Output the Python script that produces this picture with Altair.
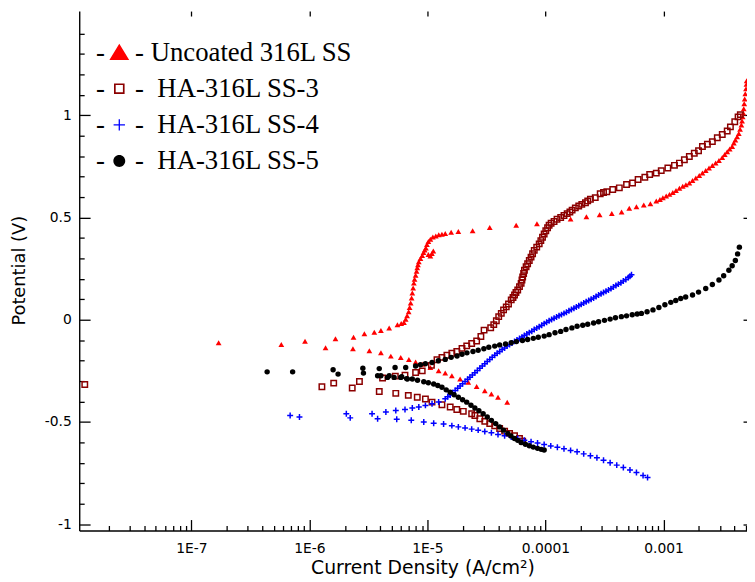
import altair as alt
import pandas as pd

SERIES = ["Uncoated 316L SS", "HA-316L SS-3", "HA-316L SS-4", "HA-316L SS-5"]
COLORS = ["#ff0000", "#8b0000", "#0000ff", "#000000"]
DASH_ROWS = ["d1", "d2", "d3", "d4"]

# log10 of current density (A/cm2) and potential (V)
RED_LOGI = [-6.769, -6.238, -6.037, -5.863, -5.779, -5.631, -5.626, -5.534, -5.492, -5.450, -5.394, -5.394, -5.324, -5.310, -5.254, -5.226, -5.222, -5.199, -5.157,
            -5.184, -5.172, -5.159, -5.151, -5.142, -5.134, -5.128, -5.121, -5.115, -5.109, -5.100, -5.092, -5.086, -5.080, -5.073, -5.059, -5.044, -5.033, -5.023, -5.013,
            -5.004, -4.992, -4.975, -4.954, -4.929, -4.904, -4.877,
            -4.992, -4.975, -4.962, -4.950,
            -4.849, -4.799, -4.738, -4.617, -4.472, -4.248, -4.072, -3.787, -3.653, -3.541, -3.438, -3.355, -3.290, -3.229, -3.167, -3.111, -3.061, -3.030, -3.005, -2.977,
            -2.949, -2.921, -2.894, -2.865, -2.837, -2.810, -2.781, -2.754, -2.726, -2.697, -2.670, -2.642, -2.614, -2.586, -2.558, -2.530, -2.502, -2.481, -2.460, -2.439,
            -2.418, -2.404, -2.391, -2.376, -2.362, -2.351, -2.340, -2.334, -2.329, -2.324, -2.320, -2.316, -2.312, -2.307, -2.301, -2.297, -2.295,
            -5.100, -5.044, -4.975, -4.905, -4.849, -4.793, -4.723, -4.654, -4.583, -4.514, -4.458, -4.402, -4.324]
RED_E = [-0.113, -0.121, -0.105, -0.137, -0.093, -0.142, -0.086, -0.069, -0.152, -0.061, -0.053, -0.161, -0.040, -0.178, -0.024, -0.185, -0.018, -0.013, -0.194,
         0.002, 0.019, 0.039, 0.060, 0.082, 0.106, 0.131, 0.155, 0.179, 0.198, 0.218, 0.237, 0.254, 0.269, 0.283, 0.300, 0.314, 0.329, 0.341, 0.351,
         0.368, 0.382, 0.394, 0.404, 0.410, 0.415, 0.418,
         0.319, 0.312, 0.324, 0.336,
         0.422, 0.428, 0.432, 0.435, 0.451, 0.462, 0.469, 0.492, 0.503, 0.513, 0.519, 0.527, 0.545, 0.553, 0.561, 0.567, 0.581, 0.588, 0.597, 0.605,
         0.613, 0.622, 0.632, 0.643, 0.653, 0.660, 0.669, 0.681, 0.693, 0.705, 0.717, 0.730, 0.742, 0.754, 0.766, 0.779, 0.793, 0.808, 0.822, 0.835,
         0.847, 0.864, 0.879, 0.895, 0.911, 0.931, 0.952, 0.972, 0.992, 1.011, 1.032, 1.056, 1.080, 1.105, 1.129, 1.151, 1.169,
         -0.207, -0.218, -0.234, -0.250, -0.261, -0.274, -0.290, -0.306, -0.326, -0.347, -0.363, -0.379, -0.403]

BROWN_LOGI = [-7.903, -5.894, -5.794, -5.637, -5.576, -5.408, -5.380, -5.272, -5.268, -5.190, -5.162, -5.100, -5.086, -5.044, -5.017,
              -4.966, -4.919, -4.877, -4.835, -4.793, -4.751, -4.707, -4.667, -4.625, -4.583, -4.547, -4.520, -4.464, -4.438, -4.416, -4.396, -4.374, -4.355, -4.332, -4.313,
              -4.290, -4.275, -4.262, -4.250, -4.235, -4.220, -4.206, -4.199, -4.193, -4.185, -4.178, -4.164, -4.151, -4.137, -4.122, -4.109, -4.095, -4.074, -4.053, -4.039,
              -4.025, -4.011, -3.997, -3.982, -3.969, -3.952, -3.927, -3.902, -3.871, -3.843, -3.816, -3.793, -3.774, -3.747, -3.718, -3.692, -3.661, -3.642, -3.619, -3.578,
              -3.536, -3.508, -3.480, -3.430, -3.374, -3.313, -3.262, -3.215, -3.158, -3.117, -3.061, -3.019, -2.963, -2.907, -2.865, -2.823, -2.781, -2.739, -2.703, -2.670,
              -2.628, -2.586, -2.544, -2.502, -2.460, -2.433, -2.396, -2.368, -2.349,
              -4.961, -4.877, -4.807, -4.751, -4.696, -4.625, -4.598, -4.556, -4.514, -4.472, -4.430, -4.388, -4.346, -4.304, -4.262, -4.220, -4.193]
BROWN_E = [-0.317, -0.328, -0.310, -0.334, -0.302, -0.351, -0.285, -0.276, -0.360, -0.271, -0.370, -0.258, -0.379, -0.250, -0.388,
           -0.223, -0.196, -0.184, -0.174, -0.164, -0.155, -0.140, -0.128, -0.116, -0.104, -0.082, -0.051, -0.039, -0.024, -0.005, 0.015, 0.031, 0.048, 0.063, 0.077,
           0.097, 0.109, 0.121, 0.133, 0.145, 0.162, 0.178, 0.194, 0.209, 0.226, 0.242, 0.259, 0.274, 0.290, 0.306, 0.323, 0.339, 0.355, 0.371, 0.387,
           0.403, 0.419, 0.435, 0.450, 0.462, 0.472, 0.480, 0.491, 0.500, 0.510, 0.519, 0.527, 0.536, 0.547, 0.556, 0.564, 0.572, 0.581, 0.589, 0.597,
           0.616, 0.622, 0.626, 0.637, 0.645, 0.661, 0.669, 0.686, 0.697, 0.710, 0.717, 0.729, 0.742, 0.755, 0.766, 0.782, 0.798, 0.814, 0.826, 0.847,
           0.858, 0.871, 0.890, 0.906, 0.923, 0.943, 0.968, 0.992, 1.003,
           -0.403, -0.416, -0.427, -0.439, -0.448, -0.460, -0.468, -0.484, -0.497, -0.508, -0.519, -0.532, -0.545, -0.556, -0.567, -0.581, -0.594]

BLUE_LOGI = [-6.163, -6.084, -5.687, -5.654, -5.469, -5.422, -5.352, -5.268, -5.260, -5.190, -5.137, -5.128, -5.073, -5.017, -4.961, -4.905,
             -4.849, -4.807, -4.765, -4.723, -4.681, -4.640, -4.598, -4.556, -4.514, -4.472, -4.430, -4.388, -4.346, -4.304, -4.262, -4.220, -4.179, -4.137, -4.095, -4.053,
             -4.011, -3.969, -3.927, -3.885, -3.843, -3.801, -3.759, -3.718, -3.676, -3.634, -3.592, -3.550, -3.508, -3.466, -3.424, -3.382, -3.340, -3.298, -3.271,
             -4.828, -4.786, -4.744, -4.702, -4.660, -4.619, -4.577, -4.535, -4.493, -4.451, -4.409, -4.367, -4.325, -4.283, -4.241, -4.199, -4.158, -4.116, -4.074,
             -4.032, -3.990, -3.948, -3.906, -3.864, -3.822, -3.780, -3.738, -3.697, -3.655, -3.613, -3.571, -3.529, -3.487, -3.445, -3.403, -3.361, -3.319, -3.284,
             -5.031, -4.947, -4.863, -4.793, -4.738, -4.681, -4.625, -4.570, -4.514, -4.458, -4.402, -4.346, -4.290, -4.235, -4.179, -4.122, -4.067, -4.011, -3.955, -3.899,
             -3.843, -3.787, -3.732, -3.676, -3.619, -3.564, -3.508, -3.452, -3.396, -3.340, -3.284, -3.229, -3.173, -3.135]
BLUE_E = [-0.468, -0.476, -0.460, -0.480, -0.460, -0.484, -0.451, -0.444, -0.487, -0.439, -0.492, -0.432, -0.427, -0.419, -0.411, -0.402,
          -0.387, -0.368, -0.346, -0.324, -0.302, -0.281, -0.259, -0.237, -0.215, -0.194, -0.174, -0.155, -0.138, -0.121, -0.106, -0.092, -0.077, -0.063, -0.048, -0.034,
          -0.019, -0.005, 0.007, 0.019, 0.031, 0.044, 0.056, 0.068, 0.082, 0.094, 0.106, 0.121, 0.133, 0.145, 0.160, 0.174, 0.189, 0.206, 0.220,
          -0.377, -0.357, -0.335, -0.313, -0.291, -0.270, -0.248, -0.226, -0.204, -0.184, -0.164, -0.146, -0.129, -0.114, -0.099, -0.085, -0.070, -0.056, -0.041,
          -0.027, -0.012, 0.001, 0.013, 0.025, 0.037, 0.050, 0.062, 0.075, 0.088, 0.100, 0.114, 0.127, 0.139, 0.152, 0.167, 0.181, 0.197, 0.213,
          -0.500, -0.506, -0.510, -0.518, -0.524, -0.529, -0.535, -0.540, -0.547, -0.553, -0.561, -0.567, -0.574, -0.581, -0.589, -0.597, -0.603, -0.610, -0.617, -0.624,
          -0.631, -0.639, -0.646, -0.656, -0.665, -0.675, -0.687, -0.699, -0.711, -0.723, -0.735, -0.747, -0.762, -0.772]

BLACK_LOGI = [-6.358, -6.142, -5.799, -5.757, -5.547, -5.542, -5.408, -5.394, -5.338, -5.274, -5.282, -5.218, -5.184, -5.170, -5.100,
              -5.059, -5.017, -4.961, -4.908, -4.849, -4.799, -4.749, -4.707, -4.665, -4.614, -4.570, -4.522, -4.480, -4.430, -4.388, -4.338, -4.290, -4.246, -4.195, -4.151,
              -4.103, -4.061, -4.011, -3.969, -3.919, -3.871, -3.826, -3.776, -3.732, -3.684, -3.642, -3.592, -3.550, -3.500, -3.452, -3.407, -3.357, -3.313, -3.265, -3.223,
              -3.187, -3.139, -3.089, -3.039, -2.988, -2.938, -2.896, -2.854, -2.812, -2.754, -2.703, -2.642, -2.586, -2.530, -2.490, -2.446, -2.418, -2.391, -2.372, -2.357,
              -5.422, -5.324, -5.226, -5.176, -5.128, -5.084, -5.031, -4.992, -4.947, -4.912, -4.877, -4.841, -4.807, -4.774, -4.738, -4.702, -4.667, -4.631, -4.598, -4.564,
              -4.528, -4.493, -4.458, -4.422, -4.388, -4.355, -4.318, -4.292, -4.262, -4.235, -4.206, -4.170, -4.137, -4.103, -4.067, -4.036, -4.011]
BLACK_E = [-0.255, -0.255, -0.245, -0.266, -0.237, -0.261, -0.239, -0.274, -0.282, -0.234, -0.282, -0.279, -0.234, -0.290, -0.226,
           -0.220, -0.215, -0.209, -0.201, -0.194, -0.184, -0.177, -0.169, -0.162, -0.155, -0.149, -0.142, -0.135, -0.129, -0.123, -0.119, -0.113, -0.107, -0.102, -0.097,
           -0.091, -0.086, -0.080, -0.073, -0.064, -0.057, -0.048, -0.040, -0.032, -0.027, -0.022, -0.016, -0.010, -0.003, 0.003, 0.010, 0.015, 0.019, 0.024, 0.028,
           0.031, 0.039, 0.048, 0.060, 0.073, 0.085, 0.094, 0.104, 0.111, 0.121, 0.135, 0.153, 0.172, 0.194, 0.215, 0.242, 0.264, 0.290, 0.322, 0.355,
           -0.274, -0.274, -0.282, -0.288, -0.290, -0.296, -0.303, -0.308, -0.314, -0.322, -0.330, -0.343, -0.355, -0.367, -0.379, -0.391, -0.403, -0.418, -0.432, -0.445,
           -0.460, -0.476, -0.492, -0.508, -0.524, -0.540, -0.556, -0.568, -0.581, -0.590, -0.600, -0.609, -0.616, -0.623, -0.629, -0.634, -0.637]

X_MAJOR = [1e-7, 1e-6, 1e-5, 1e-4, 1e-3]
X_LABELS = ["1E-7", "1E-6", "1E-5", "0.0001", "0.001"]
X_MINOR = [m * 10.0 ** e for e in range(-8, -2) for m in range(2, 10) if 1.13e-8 < m * 10.0 ** e < 5.1e-3]
Y_MAJOR = [-1, -0.5, 0, 0.5, 1]
Y_LABELS = ["-1", "-0.5", "0", "0.5", "1"]
Y_MINOR = [round(-1 + 0.1 * k, 1) for k in range(25) if k % 5 != 0]

X_DOMAIN = [1.122e-8, 5.1e-3]
Y_DOMAIN = [-1.0305, 1.5094]
W, H = 675, 525

# legend markers (unit = 5 px); the leading zero-area segment keeps the markers aligned
SPACER = "M-4.5,0.25H-3.5 "
LEGEND_SHAPES = [
    SPACER + "M0,-1.8L2,1.5L-2,1.5Z",
    SPACER + "M-1.07,-1.07H1.07V1.07H-1.07Z M-0.73,-0.73V0.73H0.73V-0.73Z",
    SPACER + "M-1.15,-0.13H1.15V0.13H-1.15Z M-0.13,-1.15H0.13V1.15H-0.13Z",
    SPACER + "M-1.2,0A1.2,1.2,0,1,1,1.2,0A1.2,1.2,0,1,1,-1.2,0Z",
]


def frame(logi, e):
    return pd.DataFrame({"i": [10.0 ** v for v in logi], "E": e})


df_red = frame(RED_LOGI, RED_E)
df_brown = frame(BROWN_LOGI, BROWN_E)
df_blue = frame(BLUE_LOGI, BLUE_E)
df_black = frame(BLACK_LOGI, BLACK_E)
df_legend = pd.DataFrame({"series": SERIES, "row": DASH_ROWS, "i": [1e-6] * 4, "E": [0.0] * 4})

xs = alt.Scale(type="log", domain=X_DOMAIN, nice=False)
ys = alt.Scale(type="linear", domain=Y_DOMAIN, nice=False, zero=False)


def enc(chart, xaxis=None, yaxis=None):
    return chart.encode(
        x=alt.X("i:Q", scale=xs, axis=xaxis),
        y=alt.Y("E:Q", scale=ys, axis=yaxis),
    )


def cond_expr(values, labels):
    expr = "'" + labels[-1] + "'"
    for k in range(len(values) - 2, -1, -1):
        mid = (values[k] + values[k + 1]) / 2
        expr = f"datum.value < {mid!r} ? '{labels[k]}' : ({expr})"
    return expr


TICK = dict(tickColor="black", tickWidth=1.3, labels=False, domain=False, grid=False, title=None)

x_main = alt.Axis(orient="bottom", values=X_MAJOR, labelExpr=cond_expr(X_MAJOR, X_LABELS),
                  ticks=False, tickSize=0, domain=True, domainColor="black", domainWidth=1.4, grid=False,
                  labelFont="DejaVu Sans", labelFontSize=14, labelColor="black", labelPadding=11,
                  labelFlush=False, labelOverlap=False,
                  title="Current Density (A/cm²)", titleFont="DejaVu Sans", titleFontSize=19,
                  titleFontWeight="normal", titleColor="black", titleX=347, titleY=44,
                  titleBaseline="alphabetic")
y_main = alt.Axis(orient="left", values=Y_MAJOR, labelExpr=cond_expr(Y_MAJOR, Y_LABELS),
                  ticks=False, tickSize=0, domain=True, domainColor="black", domainWidth=1.4, grid=False,
                  labelFont="DejaVu Sans", labelFontSize=14, labelColor="black", labelPadding=8,
                  labelFlush=False, labelOverlap=False,
                  title="Potential (V)", titleFont="DejaVu Sans", titleFontSize=18,
                  titleFontWeight="normal", titleColor="black", titleAngle=270, titleX=-55, titleY=262,
                  titleBaseline="alphabetic", titleAlign="center")

ghost = alt.Chart(df_black).mark_point(opacity=0)

ax_main = enc(ghost, x_main, y_main)
ax_major = enc(ghost,
               alt.Axis(orient="top", offset=-H, values=X_MAJOR, tickSize=11, **TICK),
               alt.Axis(orient="right", offset=-W, values=Y_MAJOR, tickSize=11, **TICK))
ax_minor = enc(ghost,
               alt.Axis(orient="top", offset=-H, values=X_MINOR, tickSize=5, **TICK),
               alt.Axis(orient="right", offset=-W, values=Y_MINOR, tickSize=5, **TICK))
ax_mirror = enc(ghost,
                alt.Axis(orient="bottom", offset=-H, values=X_MAJOR, tickSize=5, **TICK),
                alt.Axis(orient="left", offset=-W, values=Y_MAJOR, tickSize=4, **TICK))

red = enc(alt.Chart(df_red).mark_point(shape="triangle-up", filled=True, color=COLORS[0], size=34, opacity=1))
brown = enc(alt.Chart(df_brown).mark_point(shape="square", filled=False, color=COLORS[1], size=30,
                                           strokeWidth=1.5, opacity=1))
blue = enc(alt.Chart(df_blue).mark_point(shape="M-1,0H1M0,-1V1", filled=False, color=COLORS[2], size=36,
                                         strokeWidth=1.5, opacity=1))
black = enc(alt.Chart(df_black).mark_point(shape="circle", filled=True, color=COLORS[3], size=30, opacity=1))

LEG = dict(orient="none", legendY=28.5, title=None, symbolSize=100, symbolStrokeWidth=0,
           labelFont="Liberation Serif", labelFontSize=27, labelColor="black",
           rowPadding=8.5, padding=0, labelLimit=500)
label_expr = "(datum.label == '" + SERIES[0] + "' ? '-\u00a0' : '-\u00a0\u00a0') + datum.label"
leg = alt.Legend(legendX=27, labelOffset=2.5, labelExpr=label_expr, symbolOpacity=1, **LEG)
# second legend carrying only the black leading dash of each entry (its symbols are fully transparent)
leg_dash = alt.Legend(legendX=-16, labelOffset=6, labelExpr="'-'", values=DASH_ROWS, **LEG)

legend_layer = enc(alt.Chart(df_legend).mark_point(filled=True, opacity=0)).encode(
    color=alt.Color("series:N", scale=alt.Scale(domain=SERIES, range=COLORS), legend=leg),
    shape=alt.Shape("series:N", scale=alt.Scale(domain=SERIES, range=LEGEND_SHAPES), legend=leg),
)
dash_layer = enc(alt.Chart(df_legend).mark_point(filled=True, color="black")).encode(
    opacity=alt.Opacity("row:N", scale=alt.Scale(type="ordinal", domain=DASH_ROWS, range=[0, 0, 0, 0]),
                        legend=leg_dash),
)

chart = alt.layer(ax_main, ax_major, ax_minor, ax_mirror, red, brown, blue, black,
                  legend_layer, dash_layer).resolve_axis(
    x="independent", y="independent"
).properties(
    width=W, height=H,
    autosize=alt.AutoSizeParams(type="none"),
    padding={"left": 72, "top": 0, "right": 0, "bottom": 49},
    background="white",
).configure_view(stroke=None)

chart.save("out.html", embed_options={"renderer": "svg", "actions": False})
